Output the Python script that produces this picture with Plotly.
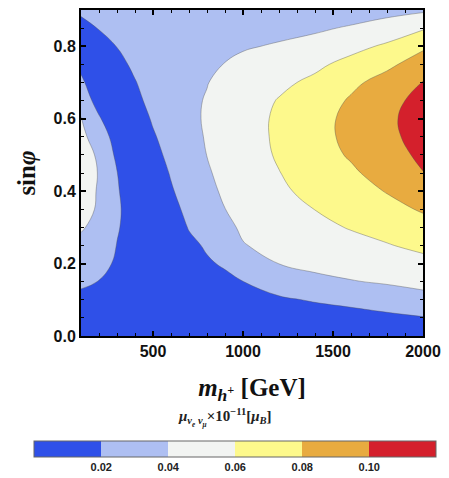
import numpy as np
import plotly.graph_objects as go

# charged Higgs mass grid (GeV) and sin(phi) grid
mass = [100, 200, 300, 400, 500, 600, 700, 800, 900, 1000, 1200, 1400, 1600, 1800, 2000]
sin_phi = [0.0, 0.05, 0.10, 0.15, 0.20, 0.25, 0.30, 0.35, 0.40, 0.45,
           0.50, 0.55, 0.60, 0.65, 0.70, 0.75, 0.80, 0.85, 0.90]

# magnetic moment values (x1e-11 mu_B) read along each mass column, sin(phi) ascending
z_m100 = [0, 0.006, 0.014, 0.024, 0.031, 0.0375, 0.041, 0.043, 0.045, 0.047, 0.046, 0.044, 0.041, 0.032, 0.024, 0.015, 0.006, 0.013, 0.024]
z_m200 = [0, 0.005, 0.012, 0.0195, 0.027, 0.032, 0.037, 0.039, 0.039, 0.0393, 0.038, 0.032, 0.022, 0.012, 0.005, 0.002, 0.010, 0.021, 0.030]
z_m300 = [0, 0.004, 0.009, 0.013, 0.017, 0.0195, 0.0215, 0.023, 0.022, 0.0205, 0.016, 0.011, 0.005, 0.002, 0.008, 0.014, 0.0205, 0.027, 0.033]
z_m400 = [0, 0.003, 0.006, 0.009, 0.011, 0.012, 0.012, 0.010, 0.007, 0.003, 0.001, 0.005, 0.010, 0.015, 0.019, 0.024, 0.028, 0.032, 0.035]
z_m500 = [0, 0.002, 0.004, 0.005, 0.005, 0.004, 0.002, 0.001, 0.004, 0.009, 0.014, 0.018, 0.022, 0.026, 0.029, 0.031, 0.033, 0.034, 0.035]
z_m600 = [0, 0.001, 0.002, 0.002, 0.003, 0.006, 0.010, 0.014, 0.018, 0.0215, 0.025, 0.028, 0.030, 0.031, 0.032, 0.032, 0.031, 0.030, 0.028]
z_m700 = [0, 0.002, 0.004, 0.007, 0.011, 0.016, 0.021, 0.025, 0.029, 0.032, 0.034, 0.036, 0.037, 0.037, 0.036, 0.034, 0.032, 0.029, 0.026]
z_m800 = [0, 0.003, 0.007, 0.012, 0.018, 0.022, 0.027, 0.031, 0.035, 0.038, 0.0402, 0.041, 0.0415, 0.041, 0.0395, 0.037, 0.034, 0.030, 0.026]
z_m900 = [0, 0.005, 0.010, 0.016, 0.022, 0.028, 0.035, 0.0398, 0.043, 0.045, 0.046, 0.047, 0.047, 0.046, 0.044, 0.0405, 0.035, 0.031, 0.027]
z_m1000 = [0, 0.007, 0.013, 0.0198, 0.029, 0.039, 0.043, 0.046, 0.048, 0.050, 0.051, 0.052, 0.052, 0.051, 0.049, 0.045, 0.038, 0.033, 0.028]
z_m1200 = [0, 0.009, 0.0175, 0.029, 0.0402, 0.046, 0.050, 0.054, 0.057, 0.0595, 0.062, 0.063, 0.063, 0.061, 0.056, 0.049, 0.042, 0.034, 0.028]
z_m1400 = [0, 0.011, 0.0215, 0.035, 0.045, 0.051, 0.056, 0.0602, 0.065, 0.069, 0.072, 0.073, 0.073, 0.070, 0.064, 0.056, 0.047, 0.037, 0.029]
z_m1600 = [0, 0.013, 0.025, 0.039, 0.048, 0.055, 0.061, 0.067, 0.072, 0.077, 0.082, 0.085, 0.085, 0.082, 0.076, 0.066, 0.054, 0.042, 0.030]
z_m1800 = [0, 0.016, 0.029, 0.042, 0.052, 0.059, 0.066, 0.074, 0.081, 0.088, 0.092, 0.0955, 0.0965, 0.094, 0.087, 0.076, 0.063, 0.048, 0.034]
z_m2000 = [0, 0.019, 0.033, 0.046, 0.055, 0.064, 0.073, 0.082, 0.090, 0.0995, 0.104, 0.107, 0.108, 0.106, 0.1008, 0.089, 0.077, 0.058, 0.037]

levels = [0.02, 0.04, 0.06, 0.08, 0.10]
tick_text = ["0.02", "0.04", "0.06", "0.08", "0.10"]
band_colors = ["#2f50e8", "#aebff2", "#f2f4f2", "#fdf98c", "#e8ab40", "#d4202c"]
bar_range = [0.0, 0.12]

columns = [z_m100, z_m200, z_m300, z_m400, z_m500, z_m600, z_m700, z_m800,
           z_m900, z_m1000, z_m1200, z_m1400, z_m1600, z_m1800, z_m2000]
z = np.array(columns).T  # rows = sin(phi), cols = mass

# contour fill colourscale (plotly samples each band at its centre: 0, .2, .4, .6, .8, 1)
fill_edges = [0.0, 0.1, 0.3, 0.5, 0.7, 0.9, 1.0]
fill_cs = []
for i, c in enumerate(band_colors):
    fill_cs.append([fill_edges[i], c])
    fill_cs.append([fill_edges[i + 1], c])

# colour bar: six equal bands from 0 to 0.12
nb = len(band_colors)
bar_cs = []
for i, c in enumerate(band_colors):
    bar_cs.append([i / nb, c])
    bar_cs.append([(i + 1) / nb, c])

serif = "Liberation Serif"
sans = "Liberation Sans"

fig = go.Figure()
fig.add_trace(go.Contour(
    x=mass, y=sin_phi, z=z,
    colorscale=fill_cs, showscale=False,
    contours=dict(start=levels[0], end=levels[-1], size=0.02, coloring="fill"),
    line=dict(color="rgba(80,80,80,0.55)", width=0.7, smoothing=1.2),
    hoverinfo="skip",
))

# colour bar carrier (no visible mark)
fig.add_trace(go.Scatter(
    x=[None], y=[None], mode="markers", hoverinfo="skip",
    marker=dict(
        color=[0.06], colorscale=bar_cs, cmin=bar_range[0], cmax=bar_range[1],
        showscale=True,
        colorbar=dict(
            orientation="h",
            lenmode="pixels", len=402, thickness=16,
            x=0.451, xanchor="center",
            y=-0.3232, yanchor="top",
            xpad=0, ypad=0,
            outlinewidth=1, outlinecolor="#666666",
            tickvals=levels, ticktext=tick_text,
            ticks="", tickfont=dict(family=sans, size=11, color="#222", weight="bold"),
        ),
    ),
))

fig.add_annotation(
    text="<i>μ</i><sub><i>ν<sub>e</sub> ν<sub>μ</sub></i></sub>×10<sup>−11</sup>[<i>μ</i><sub><i>B</i></sub>]",
    xref="paper", yref="paper", x=0.4225, y=-0.25, xanchor="center", yanchor="middle",
    showarrow=False, font=dict(family=serif, size=15, color="#222", weight="bold"),
)

axis_common = dict(
    showline=True, linecolor="black", linewidth=2, mirror="allticks",
    ticks="inside", ticklen=5, tickwidth=1.5, tickcolor="black",
    showgrid=False, zeroline=False,
    tickfont=dict(family=sans, size=16, color="#111", weight="bold"),
)

fig.update_xaxes(
    range=[100, 2000], tickvals=[500, 1000, 1500, 2000],
    minor=dict(dtick=100, tick0=0, ticks="inside", ticklen=3, tickwidth=1, tickcolor="black"),
    title=dict(text="<i>m</i><sub><i>h</i><sup>+</sup></sub> [GeV]",
               font=dict(family=serif, size=25, color="#111", weight="bold"), standoff=19),
    **axis_common,
)
fig.update_yaxes(
    range=[0, 0.9], tickvals=[0.0, 0.2, 0.4, 0.6, 0.8], ticktext=["0.0", "0.2", "0.4", "0.6", "0.8"],
    minor=dict(dtick=0.05, tick0=0, ticks="inside", ticklen=3, tickwidth=1, tickcolor="black"),
    title=dict(text="sin<i>φ</i>", font=dict(family=serif, size=25, color="#111", weight="bold"), standoff=11),
    **axis_common,
)

fig.update_layout(
    width=449, height=478,
    margin=dict(l=81, r=26, t=8, b=142),
    paper_bgcolor="white", plot_bgcolor="white",
    showlegend=False,
)

fig.write_html("out.html")
